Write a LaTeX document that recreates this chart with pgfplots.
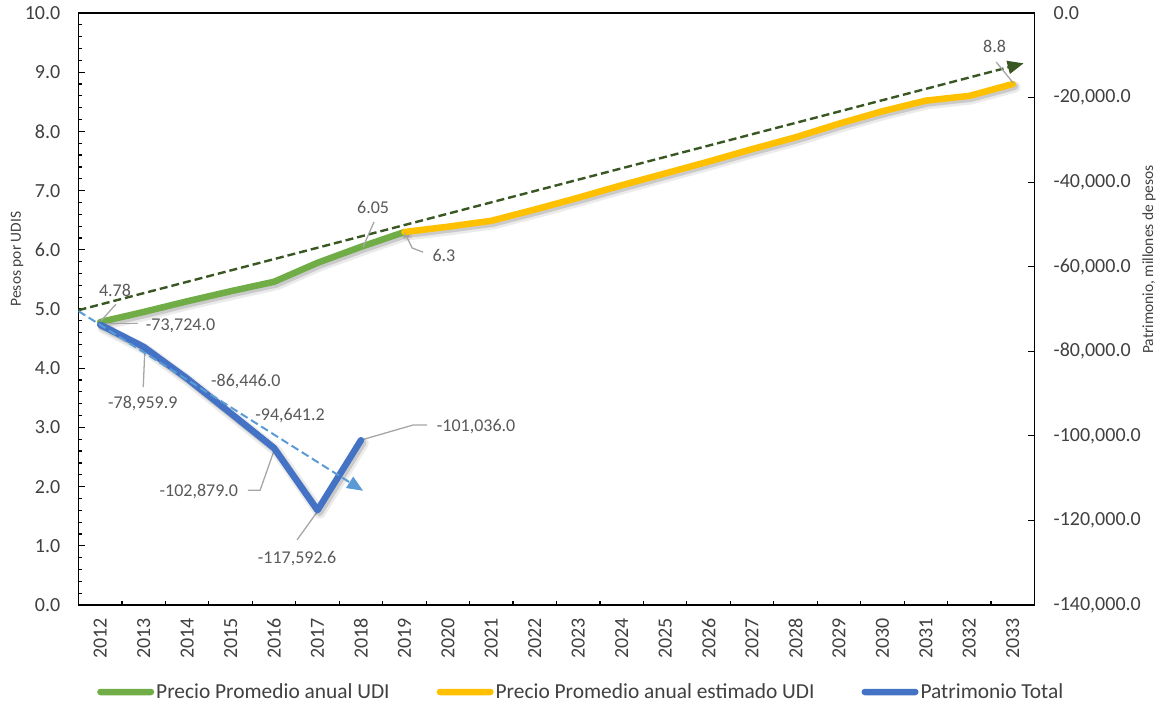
\documentclass[border=0pt]{standalone}
\usepackage{pgfplots}
\pgfplotsset{compat=1.18}
\usepackage{fontspec}
\setmainfont{Carlito}
\usetikzlibrary{arrows.meta}

\definecolor{cGreen}{HTML}{70AD47}
\definecolor{cYellow}{HTML}{FFC000}
\definecolor{cBlue}{HTML}{4472C4}
\definecolor{cTrendG}{HTML}{385723}
\definecolor{cTrendB}{HTML}{5B9BD5}
\definecolor{cLabel}{HTML}{595959}
\definecolor{cLeader}{HTML}{A6A6A6}
\definecolor{cTick}{HTML}{404040}

\newcommand\tickfont{\fontsize{20}{24}\selectfont}
\newcommand\labfont{\fontsize{18}{22}\selectfont}

\tikzset{
  serie/.style={line width=6.5pt, line join=round, line cap=round},
  shadowA/.style={black, opacity=0.08, line width=11pt, line join=round, line cap=round,
    transform canvas={xshift=2.5pt,yshift=-3pt}},
  shadowB/.style={black, opacity=0.14, line width=7pt, line join=round, line cap=round,
    transform canvas={xshift=2pt,yshift=-2.5pt}},
  trend/.style={line width=2.4pt, dash pattern=on 8pt off 4pt,
    -{Triangle[length=16pt,width=13pt]}},
  dlabel/.style={text=cLabel, font=\labfont, inner sep=0pt},
  leader/.style={draw=cLeader, line width=1.3pt},
}

% Precio promedio anual UDI (observado)
\pgfplotstableread{
x y
0 4.78
1 4.95
2 5.13
3 5.30
4 5.46
5 5.78
6 6.05
7 6.30
}\udiobs

% Precio promedio anual UDI (estimado)
\pgfplotstableread{
x y
7 6.30
8 6.39
9 6.49
10 6.68
11 6.88
12 7.09
13 7.29
14 7.49
15 7.70
16 7.90
17 8.13
18 8.34
19 8.52
20 8.60
21 8.80
}\udiest

% Patrimonio total, millones de pesos
\pgfplotstableread{
x y
0 -73724.0
1 -78959.9
2 -86446.0
3 -94641.2
4 -102879.0
5 -117592.6
6 -101036.0
}\patrimonio

\begin{document}
\begin{tikzpicture}
\begin{axis}[
  name=ax,
  scale only axis, width=956pt, height=592pt,
  xmin=-0.5, xmax=21.5, ymin=0, ymax=10,
  clip=false,
  axis line style={black, line width=1.6pt},
  xtick={0,...,21},
  xticklabels={2012,2013,2014,2015,2016,2017,2018,2019,2020,2021,2022,2023,2024,2025,2026,2027,2028,2029,2030,2031,2032,2033},
  minor xtick={0.5,1.5,...,20.5},
  major x tick style={draw=none},
  minor x tick style={black, line width=1.2pt},
  xtick pos=bottom,
  ytick={0,1,...,10},
  minor y tick num=4,
  ytick pos=left,
  tick align=inside,
  major tick length=7pt, minor tick length=4pt,
  y tick style={black, line width=1.2pt},
  xticklabel style={rotate=90, anchor=east, inner sep=0pt, font=\tickfont, text=cTick},
  xticklabel shift=13pt,
  yticklabel style={anchor=east, inner sep=0pt, font=\tickfont, text=cTick,
    /pgf/number format/.cd, fixed, fixed zerofill, precision=1, assume math mode=true},
  yticklabel shift=18pt,
]
\addplot[shadowA, forget plot] table[x=x,y=y] {\udiobs};
\addplot[shadowB, forget plot] table[x=x,y=y] {\udiobs};
\addplot[shadowA, forget plot] table[x=x,y=y] {\udiest};
\addplot[shadowB, forget plot] table[x=x,y=y] {\udiest};
\addplot[serie, cGreen, forget plot] table[x=x,y=y] {\udiobs};
\addplot[serie, cYellow, forget plot] table[x=x,y=y] {\udiest};
% tendencia lineal del precio de la UDI
\addplot[trend, cTrendG, forget plot] coordinates {(-0.5,4.98) (21.25,9.15)};

% etiquetas de datos (UDI)
\draw[leader] (axis cs:0.02,4.80) -- (axis cs:0.36,5.08);
\node[dlabel] at (axis cs:0.34,5.32) {4.78};
\draw[leader] (axis cs:6.05,6.05) -- (axis cs:6.30,6.47);
\node[dlabel] at (axis cs:6.28,6.71) {6.05};
\draw[leader] (axis cs:7.01,6.28) -- (axis cs:7.18,6.03) -- (axis cs:7.43,5.96);
\node[dlabel] at (axis cs:7.91,5.91) {6.3};
\draw[leader] (axis cs:21.01,8.82) -- (axis cs:20.62,9.17);
\node[dlabel] at (axis cs:20.58,9.43) {8.8};

% etiquetas de datos (patrimonio)
\draw[leader] (axis cs:0.0,4.75) -- (axis cs:0.87,4.75);
\node[dlabel] at (axis cs:1.85,4.71) {-73,724.0};
\draw[leader] (axis cs:1.03,4.36) -- (axis cs:0.99,3.68);
\node[dlabel] at (axis cs:0.98,3.41) {-78,959.9};
\node[dlabel] at (axis cs:3.35,3.78) {-86,446.0};
\node[dlabel] at (axis cs:4.37,3.20) {-94,641.2};
\draw[leader] (axis cs:4.02,2.65) -- (axis cs:3.68,1.94) -- (axis cs:3.40,1.94);
\node[dlabel] at (axis cs:2.27,1.92) {-102,879.0};
\draw[leader] (axis cs:4.99,1.57) -- (axis cs:4.53,1.10);
\node[dlabel] at (axis cs:4.53,0.78) {-117,592.6};
\draw[leader] (axis cs:6.02,2.79) -- (axis cs:7.20,3.04) -- (axis cs:7.52,3.04);
\node[dlabel] at (axis cs:8.65,3.01) {-101,036.0};
\end{axis}

\begin{axis}[
  scale only axis, width=956pt, height=592pt,
  xmin=-0.5, xmax=21.5, ymin=-140000, ymax=0,
  clip=false,
  axis x line=none, axis y line*=right,
  axis line style={black, line width=1.6pt},
  ytick={-140000,-120000,-100000,-80000,-60000,-40000,-20000,0},
  scaled y ticks=false,
  tick align=inside, major tick length=7pt,
  y tick style={black, line width=1.2pt},
  yticklabel style={anchor=west, inner sep=0pt, font=\tickfont, text=cTick,
    /pgf/number format/.cd, fixed, fixed zerofill, precision=1, 1000 sep={,}, assume math mode=true},
  yticklabel shift=19pt,
  legend columns=3,
  legend style={at={(0,0)}, anchor=west, xshift=18.5pt, yshift=-87pt,
    draw=none, fill=none, inner sep=0pt,
    font=\fontsize{21.4}{25}\selectfont, text=cTick,
    nodes={inner sep=2pt},
    /tikz/every even column/.append style={column sep=45pt}},
  legend image code/.code={
    \path[draw=none, fill=none] (0pt,-4pt) rectangle (57pt,4pt);
    \path[draw=none, fill=#1, rounded corners=3.2pt] (0pt,-3.25pt) rectangle (57pt,3.25pt);},
]
\addlegendimage{cGreen}
\addlegendentry{Precio Promedio anual UDI}
\addlegendimage{cYellow}
\addlegendentry{Precio Promedio anual estimado UDI}
\addplot[shadowA, forget plot] table[x=x,y=y] {\patrimonio};
\addplot[shadowB, forget plot] table[x=x,y=y] {\patrimonio};
\addplot[serie, cBlue] table[x=x,y=y] {\patrimonio};
\addlegendentry{Patrimonio Total}
% tendencia lineal del patrimonio
\addplot[trend, cTrendB, line width=2pt, forget plot] coordinates {(-0.5,-70500) (6.05,-113000)};
\end{axis}

\node[rotate=90, font=\fontsize{15.5}{18}\selectfont, text=cTick] at ([shift={(-61.5pt,346pt)}]ax.south west) {Pesos por UDIS};
\node[rotate=90, font=\fontsize{15.5}{18}\selectfont, text=cTick] at ([shift={(114.5pt,345.5pt)}]ax.south east) {Patrimonio, millones de pesos};

\pgfresetboundingbox
\path ([shift={(-78.5pt,-102pt)}]ax.south west) rectangle ([shift={(127.5pt,13pt)}]ax.north east);
\end{tikzpicture}
\end{document}
